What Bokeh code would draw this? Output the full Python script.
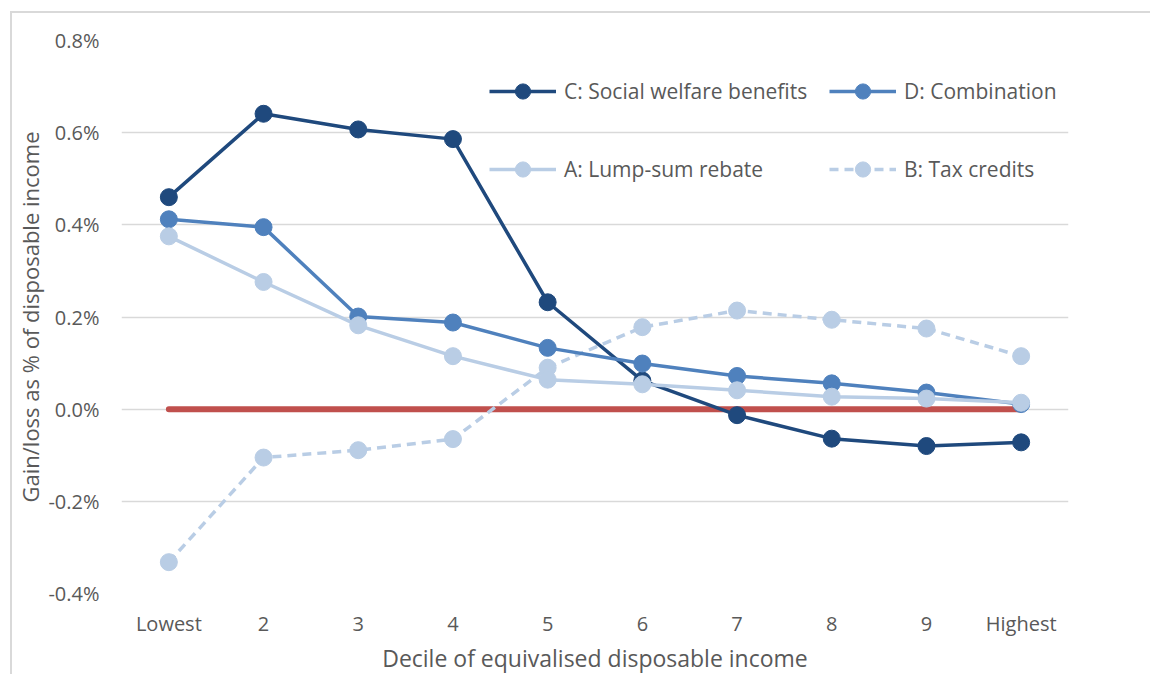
from bokeh.plotting import figure
from bokeh.models import (FactorRange, Range1d, FixedTicker, PrintfTickFormatter,
                          Legend, LegendItem, ColumnDataSource)
from bokeh.embed import file_html
from bokeh.resources import INLINE

# ---------------- data ----------------
deciles = ["Lowest", "2", "3", "4", "5", "6", "7", "8", "9", "Highest"]
c_social_welfare = [0.460, 0.641, 0.607, 0.586, 0.232, 0.062, -0.013, -0.064, -0.080, -0.072]
d_combination = [0.412, 0.395, 0.201, 0.188, 0.133, 0.099, 0.072, 0.056, 0.036, 0.011]
a_lump_sum = [0.375, 0.276, 0.182, 0.115, 0.064, 0.054, 0.041, 0.027, 0.023, 0.014]
b_tax_credits = [-0.332, -0.105, -0.089, -0.065, 0.090, 0.178, 0.214, 0.194, 0.175, 0.115]
zero_line = [0, 0, 0, 0, 0, 0, 0, 0, 0, 0]
y_ticks = [-0.4, -0.2, 0.0, 0.2, 0.4, 0.6, 0.8]

FONT = "Open Sans"
TXT = "#595959"

p = figure(x_range=FactorRange(*deciles, range_padding=0),
           y_range=Range1d(-0.4, 0.8),
           width=1140, height=663, output_backend="svg", toolbar_location=None,
           min_border_left=108, min_border_right=84, min_border_top=27, min_border_bottom=82)
p.styles = {"border-left": "2px solid #D9D9D9", "border-top": "2px solid #D9D9D9",
            "margin-left": "10px", "margin-top": "11px"}
p.outline_line_color = None
p.xgrid.grid_line_color = None
p.ygrid.grid_line_color = "#D9D9D9"
p.ygrid.grid_line_width = 1.5
p.yaxis.ticker = FixedTicker(ticks=y_ticks)
p.yaxis.formatter = PrintfTickFormatter(format="%.1f%%")

for ax in (p.xaxis[0], p.yaxis[0]):
    ax.axis_line_color = None
    ax.major_tick_line_color = None
    ax.minor_tick_line_color = None
    ax.major_tick_in = 0
    ax.major_tick_out = 0
    ax.major_label_text_font = FONT
    ax.major_label_text_font_size = "20px"
    ax.major_label_text_color = TXT
    ax.axis_label_text_font = FONT
    ax.axis_label_text_font_style = "normal"
    ax.axis_label_text_color = TXT

p.xaxis.axis_label = "Decile of equivalised disposable income"
p.xaxis.axis_label_text_font_size = "23px"
p.xaxis.major_label_standoff = 16
p.xaxis.axis_label_standoff = 2
p.yaxis.axis_label = "Gain/loss as % of disposable income"
p.yaxis.axis_label_text_font_size = "22px"
p.yaxis.major_label_standoff = 22
p.yaxis.axis_label_standoff = 0

src = ColumnDataSource(dict(x=deciles, c=c_social_welfare, d=d_combination,
                            a=a_lump_sum, b=b_tax_credits, z=zero_line))

p.line("x", "z", source=src, color="#C0504D", line_width=6, line_cap="round")

DARK = "#1F497D"
MID = "#4F81BD"
LIGHT = "#B9CDE5"
MS = 17

b_l = p.line("x", "b", source=src, color=LIGHT, line_width=3.5, line_dash="9 6")
b_s = p.scatter("x", "b", source=src, size=MS, color=LIGHT)
c_l = p.line("x", "c", source=src, color=DARK, line_width=3.5)
c_s = p.scatter("x", "c", source=src, size=MS, color=DARK)
d_l = p.line("x", "d", source=src, color=MID, line_width=3.5)
d_s = p.scatter("x", "d", source=src, size=MS, color=MID)
a_l = p.line("x", "a", source=src, color=LIGHT, line_width=3.5)
a_s = p.scatter("x", "a", source=src, size=MS, color=LIGHT)


def add_legend(label, rends, loc):
    lg = Legend(items=[LegendItem(label=label, renderers=rends)], location=loc,
                background_fill_alpha=0, border_line_color=None,
                padding=0, margin=0, spacing=0,
                glyph_width=67, glyph_height=38, label_height=38, label_standoff=8,
                label_text_font=FONT, label_text_font_size="21px", label_text_color=TXT)
    p.add_layout(lg, "center")


add_legend("C: Social welfare benefits", [c_l, c_s], (368, 483))
add_legend("D: Combination", [d_l, d_s], (708, 483))
add_legend("A: Lump-sum rebate", [a_l, a_s], (368, 405))
add_legend("B: Tax credits", [b_l, b_s], (708, 405))

open("out.html", "w").write(file_html(p, INLINE))
